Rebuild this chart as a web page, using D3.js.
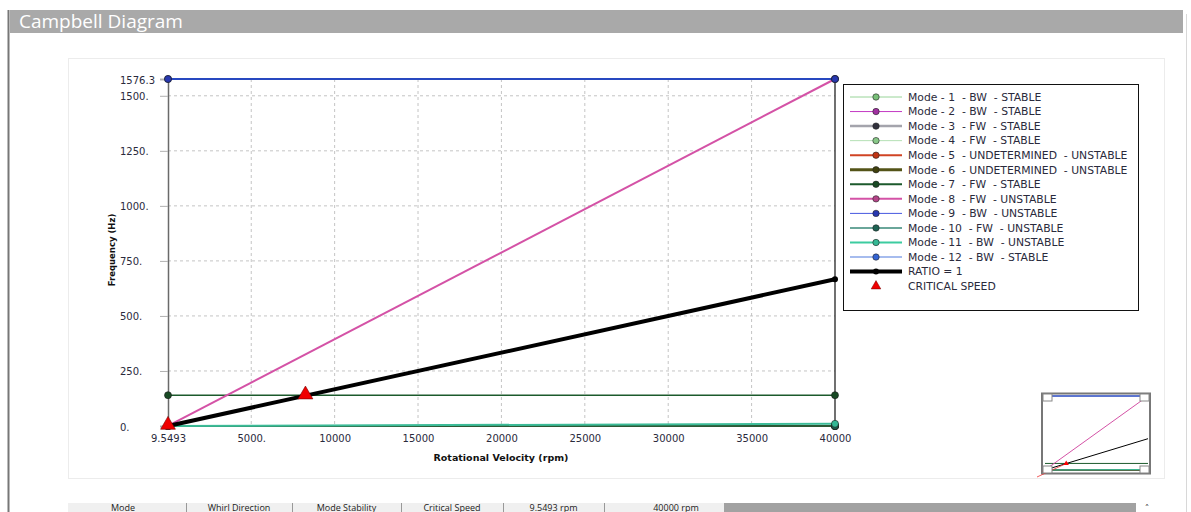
<!DOCTYPE html>
<html><head><meta charset="utf-8">
<script src="https://cdn.jsdelivr.net/npm/d3@7"></script>
<style>
html,body{margin:0;padding:0;background:#fff;overflow:hidden;}
svg text{white-space:pre;}
</style></head>
<body>
<svg id="c" width="1191" height="512"></svg>
<script>
// ---- data ----
const speeds = [9.5493, 40000];               // rpm, solution points
const modeNames = ["Mode - 1  - BW  - STABLE","Mode - 2  - BW  - STABLE","Mode - 3  - FW  - STABLE","Mode - 4  - FW  - STABLE","Mode - 5  - UNDETERMINED  - UNSTABLE","Mode - 6  - UNDETERMINED  - UNSTABLE","Mode - 7  - FW  - STABLE","Mode - 8  - FW  - UNSTABLE","Mode - 9  - BW  - UNSTABLE","Mode - 10  - FW  - UNSTABLE","Mode - 11  - BW  - UNSTABLE","Mode - 12  - BW  - STABLE"];
const mode1  = [0, 0];
const mode2  = [0, 0];
const mode3  = [0, 0];
const mode4  = [0, 0];
const mode5  = [0, 0];
const mode6  = [0, 0];
const mode7  = [140, 140];
const mode8  = [0.4, 1576.3];
const mode9  = [1576.3, 1576.3];
const mode10 = [0, 0];
const mode11 = [0, 10];
const mode12 = [1576.3, 1576.3];
const ratio1 = [0.16, 666.67];
const criticalSpeeds = [9.5493, 8250];      // rpm
const criticalFreqs  = [0.16, 138];         // Hz
const xTickValues = [9.5493, 5000, 10000, 15000, 20000, 25000, 30000, 35000, 40000];
const xTickLabels = ["9.5493","5000.","10000","15000","20000","25000","30000","35000","40000"];
const yTickValues = [0, 250, 500, 750, 1000, 1250, 1500, 1576.3];
const yTickLabels = ["0.","250.","500.","750.","1000.","1250.","1500.","1576.3"];
const tableHeaders = ["Mode","Whirl Direction","Mode Stability","Critical Speed","9.5493 rpm","40000 rpm"];

// ---- styles ----
const modeData = [mode1,mode2,mode3,mode4,mode5,mode6,mode7,mode8,mode9,mode10,mode11,mode12];
const lineColors  = ["#98d498","#c43ac4","#a4a4ac","#b4e0b4","#d04424","#545418","#1c5a2c","#d452a6","#4658e0","#6aa69a","#3ccca0","#a6bcee"];
const plotColors  = ["#98d498","#c43ac4","#a4a4ac","#b4e0b4","#d04424","#545418","#1c5a2c","#d452a6","#2848c0","#205a40","#3cbc98","#2848c0"];
const markColors  = ["#78c078","#a030a0","#30303c","#88c888","#c03414","#40400e","#184a24","#b44488","#2838b0","#1e6454","#34b894","#3464d4"];
const legendWidths= [1,1,2.5,1,2,3,2,2,1,2,2,2];
const plotWidths  = [1,1,1.5,1,1.5,2,1.5,2,2,1.5,2,2];
const txtCol = "#2a2a3c";

const svg = d3.select("#c");

// frame
svg.append("line").attr("x1",8.5).attr("x2",8.5).attr("y1",10).attr("y2",512).attr("stroke","#777").attr("stroke-width",2);
svg.append("rect").attr("x",10).attr("y",10).attr("width",1173).attr("height",23).attr("fill","#a9a9a9");
svg.append("text").attr("x",19).attr("y",27.5).text("Campbell Diagram")
  .attr("font-family","Open Sans, sans-serif").attr("font-size",19).attr("fill","#fff");
svg.append("line").attr("x1",1186.5).attr("x2",1186.5).attr("y1",14).attr("y2",512).attr("stroke","#d8d8d8");
svg.append("rect").attr("x",68.5).attr("y",58.5).attr("width",1096).attr("height",420).attr("fill","#fff").attr("stroke","#ececec");

// scales
const x = d3.scaleLinear().domain([9.5493, 40000]).range([168, 835]);
const y = d3.scaleLinear().domain([0, 1576.3]).range([426, 79]);

// grid
const g = svg.append("g");
g.selectAll(".vg").data(xTickValues.slice(1,-1)).join("line")
  .attr("x1",d=>x(d)).attr("x2",d=>x(d)).attr("y1",y(1576.3)).attr("y2",y(0))
  .attr("stroke","#c4c4c4").attr("stroke-dasharray","3,3");
g.selectAll(".hg").data(yTickValues.slice(1,-1)).join("line")
  .attr("x1",x(9.5493)).attr("x2",x(40000)).attr("y1",d=>y(d)).attr("y2",d=>y(d))
  .attr("stroke","#c4c4c4").attr("stroke-dasharray","3,3");

// axes
const yAxis = d3.axisLeft(y).tickValues(yTickValues).tickSize(8).tickFormat((d,i)=>"");
const ya = svg.append("g").attr("transform",`translate(${x(9.5493)},0)`).call(yAxis);
ya.select(".domain").attr("stroke","#6a6a6a").attr("stroke-width",1.5);
ya.selectAll(".tick line").attr("stroke","#b0b0b0");
svg.selectAll(".ylab").data(yTickValues).join("text")
  .attr("x",120).attr("y",(d)=>y(d)+1).attr("dy","0.35em")
  .text((d,i)=>yTickLabels[i])
  .attr("font-family","DejaVu Sans, sans-serif").attr("font-size",10).attr("fill",txtCol);
const xAxis = d3.axisBottom(x).tickValues(xTickValues).tickSize(0).tickPadding(9).tickFormat((d,i)=>xTickLabels[i]);
const xa = svg.append("g").attr("transform",`translate(0,${y(0)})`).call(xAxis);
xa.select(".domain").attr("stroke","#333").attr("stroke-width",1);
xa.selectAll("text").attr("font-family","DejaVu Sans, sans-serif").attr("font-size",10).attr("fill",txtCol);
// right border
svg.append("line").attr("x1",x(40000)).attr("x2",x(40000)).attr("y1",y(1576.3)).attr("y2",y(0)).attr("stroke","#111").attr("stroke-width",1.2);

svg.append("text").attr("x",501).attr("y",461).attr("text-anchor","middle").text("Rotational Velocity (rpm)")
  .attr("font-family","DejaVu Sans, sans-serif").attr("font-weight","bold").attr("font-size",9.5).attr("fill","#111");
svg.append("text").attr("transform","translate(115,250) rotate(-90)").attr("text-anchor","middle").text("Frequency (Hz)")
  .attr("font-family","DejaVu Sans, sans-serif").attr("font-weight","bold").attr("font-size",8.5).attr("fill","#111");

// series
const line = d3.line().x((d,i)=>x(speeds[i])).y(d=>y(d));
const order = [0,1,2,3,4,5,9,6,7,11,8,10];
order.forEach(k=>{
  svg.append("path").attr("d",line(modeData[k])).attr("fill","none")
    .attr("stroke",plotColors[k]).attr("stroke-width",plotWidths[k]);
});
svg.append("path").attr("d",line(ratio1)).attr("fill","none").attr("stroke","#000").attr("stroke-width",4);
order.forEach(k=>{
  svg.selectAll(null).data(modeData[k]).join("circle")
    .attr("cx",(d,i)=>x(speeds[i])).attr("cy",d=>y(d)).attr("r",3.5)
    .attr("fill",markColors[k]).attr("stroke","#1a1a1a").attr("stroke-width",0.6);
});
svg.selectAll(null).data(ratio1.slice(1)).join("circle")
  .attr("cx",x(speeds[1])).attr("cy",d=>y(d)).attr("r",3).attr("fill","#000");
const tri = d3.symbol().type(d3.symbolTriangle).size(95);
svg.selectAll(".crit").data(criticalSpeeds).join("path")
  .attr("d",tri).attr("transform",(d,i)=>`translate(${x(d)},${y(criticalFreqs[i])-1})`)
  .attr("fill","#f00000").attr("stroke","#700").attr("stroke-width",0.6);

// legend
const lg = svg.append("g");
lg.append("rect").attr("x",843.5).attr("y",84.5).attr("width",295).attr("height",226).attr("fill","#fff").attr("stroke","#111");
const rowY = i => 97 + i*14.55;
const lf = 10.8;
modeNames.forEach((name,i)=>{
  lg.append("line").attr("x1",850).attr("x2",902).attr("y1",rowY(i)).attr("y2",rowY(i)).attr("stroke",lineColors[i]).attr("stroke-width",legendWidths[i]);
  lg.append("circle").attr("cx",876).attr("cy",rowY(i)).attr("r",3.2).attr("fill",markColors[i]).attr("stroke","#222").attr("stroke-width",0.6);
  lg.append("text").attr("x",908).attr("y",rowY(i)).attr("dy","0.35em").text(name)
    .attr("font-family","DejaVu Sans, sans-serif").attr("font-size",lf).attr("fill",txtCol);
});
lg.append("line").attr("x1",850).attr("x2",902).attr("y1",rowY(12)).attr("y2",rowY(12)).attr("stroke","#000").attr("stroke-width",4);
lg.append("circle").attr("cx",876).attr("cy",rowY(12)).attr("r",3).attr("fill","#000");
lg.append("text").attr("x",908).attr("y",rowY(12)).attr("dy","0.35em").text("RATIO = 1")
  .attr("font-family","DejaVu Sans, sans-serif").attr("font-size",lf).attr("fill",txtCol);
lg.append("path").attr("d",d3.symbol().type(d3.symbolTriangle).size(40)).attr("transform",`translate(876,${rowY(13)})`).attr("fill","#f00000").attr("stroke","#700").attr("stroke-width",0.5);
lg.append("text").attr("x",908).attr("y",rowY(13)).attr("dy","0.35em").text("CRITICAL SPEED")
  .attr("font-family","DejaVu Sans, sans-serif").attr("font-size",lf).attr("fill",txtCol);

// minimap
const mx = d3.scaleLinear().domain([9.5493, 40000]).range([1045, 1148]);
const my = d3.scaleLinear().domain([0, 1576.3]).range([470, 396]);
const mm = svg.append("g");
mm.append("rect").attr("x",1042).attr("y",393.5).attr("width",108).attr("height",80).attr("fill","#fff").attr("stroke","#777").attr("stroke-width",2);
const mline = d3.line().x((d,i)=>mx(speeds[i])).y(d=>my(d));
order.forEach(k=>{
  mm.append("path").attr("d",mline(modeData[k])).attr("fill","none").attr("stroke",plotColors[k]).attr("stroke-width",1);
});
mm.append("path").attr("d",mline(ratio1)).attr("fill","none").attr("stroke","#000").attr("stroke-width",1);
mm.append("line").attr("x1",mx(9.5493)-8).attr("y1",my(0)+7).attr("x2",mx(8250)).attr("y2",my(138)).attr("stroke","#e33").attr("stroke-width",0.8);
mm.selectAll(".mc").data(criticalSpeeds).join("path").attr("d",d3.symbol().type(d3.symbolTriangle).size(12))
  .attr("transform",(d,i)=>`translate(${mx(d)},${my(criticalFreqs[i])})`).attr("fill","#f00");
[[1043,394],[1140,394],[1043,466],[1140,466]].forEach(p=>{
  mm.append("rect").attr("x",p[0]).attr("y",p[1]).attr("width",9).attr("height",7).attr("fill","#fff").attr("stroke","#888");
});

// table header (partly scrolled out of view)
const tb = svg.append("g");
tb.append("rect").attr("x",68).attr("y",503).attr("width",1068).attr("height",12).attr("fill","#f0f0f0");
tb.append("rect").attr("x",724).attr("y",503).attr("width",412).attr("height",12).attr("fill","#a2a2a2");
const colEdges = [68,186,292,401,503,604,724];
tb.selectAll(".sep").data(colEdges.slice(1,-1)).join("line").attr("x1",d=>d+0.5).attr("x2",d=>d+0.5).attr("y1",503).attr("y2",512).attr("stroke","#999");
tb.selectAll(".hd").data(tableHeaders).join("text")
  .attr("x",(d,i)=>(colEdges[i]+colEdges[i+1])/2 + (i===0?-4:(i===5?12:0))).attr("y",510.5).attr("text-anchor","middle").text(d=>d)
  .attr("font-family","Open Sans, sans-serif").attr("font-size",9).attr("fill","#222");
tb.append("text").attr("x",1147).attr("y",511).attr("text-anchor","middle").text("˄").attr("font-family","DejaVu Sans").attr("font-size",9).attr("fill","#333");
</script>
</body></html>
